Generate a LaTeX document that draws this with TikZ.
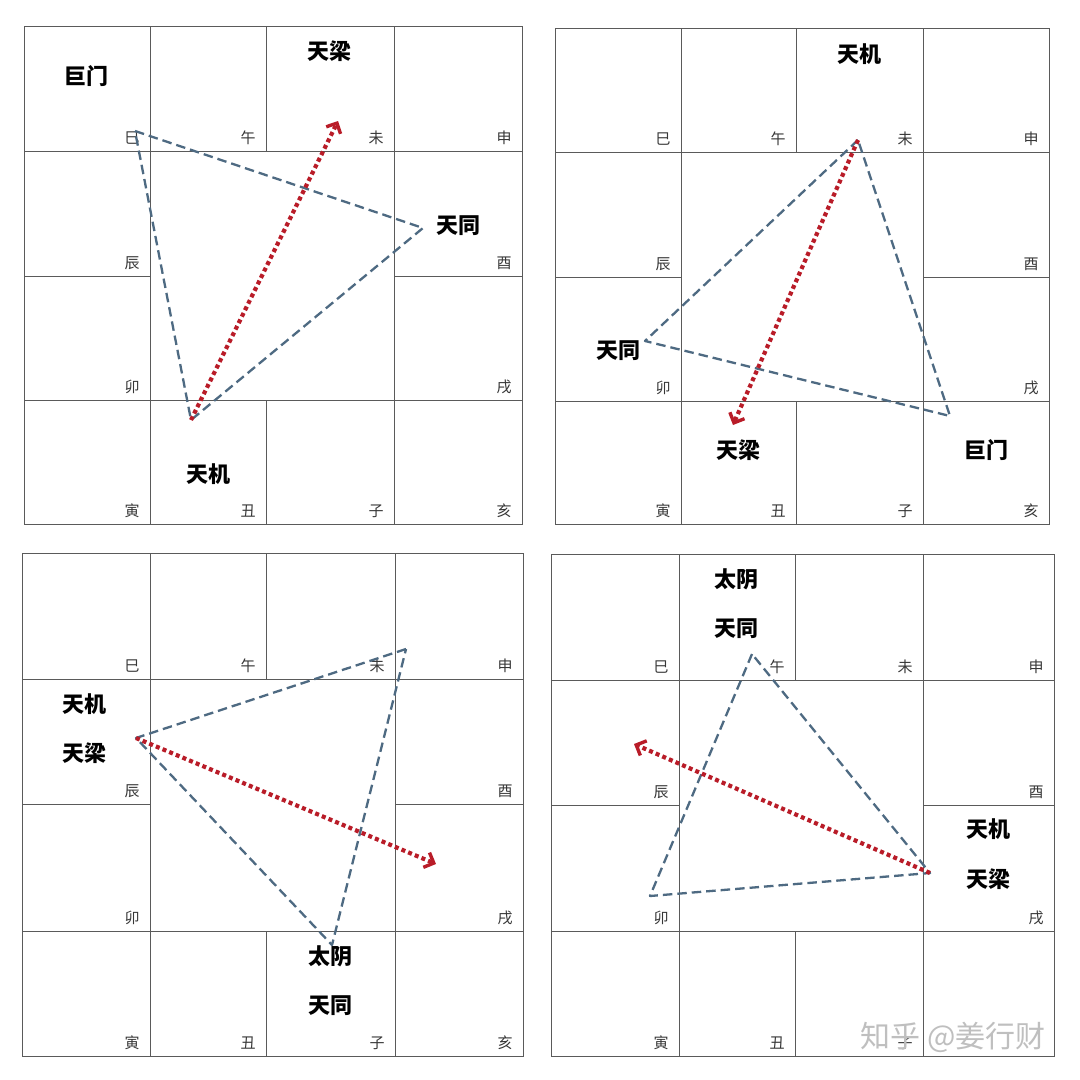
\documentclass[tikz,border=0pt]{standalone}
\usepackage{fontspec}
\newfontfamily\cjk{Noto Sans CJK SC}
\usetikzlibrary{arrows.meta}
\definecolor{gridc}{RGB}{90,90,90}
\definecolor{tric}{RGB}{78,106,130}
\definecolor{arrc}{RGB}{185,28,40}
\definecolor{labc}{RGB}{55,55,55}
\def\setxs#1,#2,#3,#4,#5\relax{\def\xa{#1}\def\xb{#2}\def\xc{#3}\def\xd{#4}\def\xe{#5}}
\def\setys#1,#2,#3,#4,#5\relax{\def\ya{#1}\def\yb{#2}\def\yc{#3}\def\yd{#4}\def\ye{#5}}
\newcommand\zwpanel[4][亥]{%
  \setxs#3\relax\setys#4\relax
  \draw[gridline] (\xa,\ya) rectangle (\xe,\ye);
  \draw[gridline] (\xa,\yb) -- (\xe,\yb) (\xa,\yd) -- (\xe,\yd)
                  (\xa,\yc) -- (\xb,\yc) (\xd,\yc) -- (\xe,\yc);
  \draw[gridline] (\xb,\ya) -- (\xb,\ye) (\xd,\ya) -- (\xd,\ye)
                  (\xc,\ya) -- (\xc,\yb) (\xc,\yd) -- (\xc,\ye);
  \node[branch] (#2si)   at (\xb-18,\yb-13) {巳};
  \node[branch] (#2wu)   at (\xc-18,\yb-13) {午};
  \node[branch] (#2wei)  at (\xd-18,\yb-13) {未};
  \node[branch] (#2shen) at (\xe-18,\yb-13) {申};
  \node[branch] (#2chen) at (\xb-18,\yc-13) {辰};
  \node[branch] (#2you)  at (\xe-18,\yc-13) {酉};
  \node[branch] (#2mao)  at (\xb-18,\yd-13) {卯};
  \node[branch] (#2xu)   at (\xe-18,\yd-13) {戌};
  \node[branch] (#2yin)  at (\xb-18,\ye-13) {寅};
  \node[branch] (#2chou) at (\xc-18,\ye-13) {丑};
  \node[branch] (#2zi)   at (\xd-18,\ye-13) {子};
  \node[branch] (#2hai)  at (\xe-18,\ye-13) {#1};
}
\begin{document}
\begin{tikzpicture}[x=1pt,y=-1pt,
  gridline/.style={draw=gridc,line width=0.9pt},
  branch/.style={font=\cjk\fontsize{15}{15}\selectfont,text=labc,inner sep=0pt},
  star/.style={font=\cjk\bfseries\fontsize{22}{22}\selectfont,text=black,inner sep=0pt},
  tri/.style={draw=tric,line width=2.3pt,dash pattern=on 9.5pt off 5pt,line join=round},
  flow/.style={draw=arrc,line width=4.2pt,dash pattern=on 4pt off 3.2pt,
    -{Straight Barb[length=8pt,width=16pt,line width=3.4pt]}}]
\useasboundingbox[fill=white] (0,0) rectangle (1080,1080);

% ---------- panel 1 ----------
\zwpanel{a}{24,150,266,394,522}{26,151,276,400,524}
\node[star] (a1) at (86,76) {巨门};
\node[star] (a2) at (329,51) {天梁};
\node[star] (a3) at (458,226) {天同};
\node[star] (a4) at (208,474) {天机};
\coordinate (aA) at (135,131);
\coordinate (aB) at (423,228);
\coordinate (aC) at (191,420);
\coordinate (aT) at (338,121);
\draw[tri] (aA) -- (aB) -- (aC) -- cycle;
\draw[flow] (aC) -- (aT);

% ---------- panel 2 ----------
\zwpanel{b}{555,681,796,923,1049}{28,152,277,401,524}
\node[star] (b1) at (859,54) {天机};
\node[star] (b2) at (618,351) {天同};
\node[star] (b3) at (738,450) {天梁};
\node[star] (b4) at (986,450) {巨门};
\coordinate (bA) at (858,140);
\coordinate (bB) at (645,341);
\coordinate (bC) at (950,416);
\coordinate (bT) at (733,425);
\draw[tri] (bA) -- (bB) -- (bC) -- cycle;
\draw[flow] (bA) -- (bT);

% ---------- panel 3 ----------
\zwpanel{c}{22,150,266,395,523}{553,679,804,931,1056}
\node[star] (c1) at (84,704) {天机};
\node[star] (c2) at (84,753) {天梁};
\node[star] (c3) at (330,956) {太阴};
\node[star] (c4) at (330,1006) {天同};
\coordinate (cA) at (406,649);
\coordinate (cB) at (136,738);
\coordinate (cC) at (332,945);
\coordinate (cT) at (436,864);
\draw[tri] (cA) -- (cB) -- (cC) -- cycle;
\draw[flow] (cB) -- (cT);

% ---------- panel 4 ----------
\zwpanel[]{d}{551,679,795,923,1054}{554,680,805,931,1056}
\node[star] (d1) at (736,579) {太阴};
\node[star] (d2) at (736,629) {天同};
\node[star] (d3) at (988,829) {天机};
\node[star] (d4) at (988,879) {天梁};
\coordinate (dA) at (752,654);
\coordinate (dB) at (650,896);
\coordinate (dC) at (930,873);
\coordinate (dT) at (634,744);
\draw[tri] (dA) -- (dB) -- (dC) -- cycle;
\draw[flow] (dC) -- (dT);

% watermark
\node[font=\cjk\fontsize{30}{30}\selectfont,text=black!25,inner sep=0pt] (wm) at (953,1037) {知乎 @姜行财};
\end{tikzpicture}
\end{document}
